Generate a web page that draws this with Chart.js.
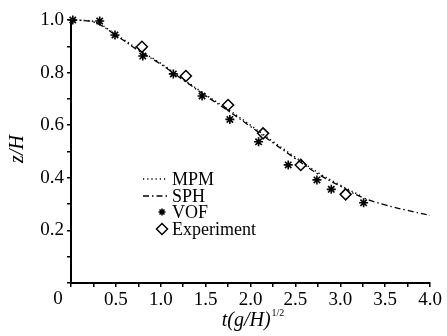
<!DOCTYPE html>
<html>
<head>
<meta charset="utf-8">
<script src="https://cdn.jsdelivr.net/npm/chart.js@4/dist/chart.umd.min.js"></script>
<style>
  html, body { margin: 0; padding: 0; background: #fff; }
  #wrap { width: 447px; height: 336px; }
</style>
</head>
<body>
<div id="wrap"><canvas id="plot" width="447" height="336"></canvas></div>
<script>
// values
const mpmT = [0, 0.25, 0.5, 0.75, 1.0, 1.25, 1.5, 1.75, 2.0, 2.25, 2.5, 2.75, 3.0, 3.25];
const mpmZ = [1.0, 0.995, 0.945, 0.888, 0.835, 0.775, 0.716, 0.66, 0.6, 0.538, 0.478, 0.42, 0.372, 0.328];
const sphT = [0, 0.25, 0.5, 0.75, 1.0, 1.25, 1.5, 1.75, 2.0, 2.25, 2.5, 2.75, 3.0, 3.25, 3.5, 3.75, 4.0];
const sphZ = [1.0, 0.993, 0.942, 0.884, 0.832, 0.772, 0.712, 0.655, 0.595, 0.533, 0.473, 0.415, 0.368, 0.325, 0.297, 0.276, 0.257];
const vofT = [0.02, 0.32, 0.49, 0.8, 1.14, 1.46, 1.77, 2.09, 2.42, 2.74, 2.9, 3.26];
const vofZ = [1.0, 0.996, 0.943, 0.863, 0.795, 0.711, 0.622, 0.537, 0.449, 0.392, 0.356, 0.305];
const expT = [0.79, 1.28, 1.75, 2.14, 2.56, 3.06];
const expZ = [0.898, 0.787, 0.677, 0.569, 0.449, 0.337];
const seriesNames = ["MPM", "SPH", "VOF", "Experiment"];

const serif = "'Liberation Serif', 'Times New Roman', serif";
const pts = (xs, ys) => xs.map((x, i) => ({ x: x, y: ys[i] }));

// legend, axis titles and the corner "0" are drawn by hand
const extras = {
  id: "extras",
  afterDraw(chart) {
    const c = chart.ctx;
    const xs = chart.scales.x;
    c.save();
    c.fillStyle = "#000";
    c.strokeStyle = "#000";
    c.textBaseline = "middle";
    c.font = "19px " + serif;
    c.textAlign = "center";
    c.fillText("0", 58, 299);

    // x title with superscript
    c.textAlign = "left";
    c.textBaseline = "alphabetic";
    c.font = "italic 20px " + serif;
    const main = "t(g/H)";
    const w = c.measureText(main).width;
    c.font = "10px " + serif;
    const sup = "1/2";
    const ws = c.measureText(sup).width;
    const x0 = (xs.left + xs.right) / 2 - (w + ws) / 2 + 2;
    c.font = "italic 20px " + serif;
    c.fillText(main, x0, 326);
    c.font = "10px " + serif;
    c.fillText(sup, x0 + w + 1, 316);

    // y title
    c.save();
    c.translate(18, 149);
    c.rotate(-Math.PI / 2);
    c.textAlign = "center";
    c.textBaseline = "middle";
    c.font = "italic 20px " + serif;
    c.fillText("z/H", 0, 0);
    c.restore();

    // legend
    const ds = chart.data.datasets;
    const lx = 143, tx = 172, rows = [179, 196, 212, 229];
    c.textAlign = "left";
    c.textBaseline = "middle";
    seriesNames.forEach((name, i) => {
      const y = rows[i];
      const d = ds[i];
      c.strokeStyle = "#000";
      if (d.showLine) {
        c.lineWidth = d.borderWidth;
        c.setLineDash(d.borderDash);
        c.beginPath();
        c.moveTo(lx, y);
        c.lineTo(lx + 24, y);
        c.stroke();
        c.setLineDash([]);
      } else {
        c.fillStyle = d.backgroundColor;
        c.lineWidth = d.pointBorderWidth;
        Chart.helpers.drawPoint(c, {
          pointStyle: d.pointStyle,
          radius: d.pointStyle === "star" ? 3.5 : 5.5,
          borderWidth: d.pointBorderWidth,
          rotation: 0
        }, 162, y);
      }
      c.fillStyle = "#000";
      c.font = "18px " + serif;
      c.fillText(name, tx, y + 1);
    });
    c.restore();
  }
};

new Chart(document.getElementById("plot"), {
  type: "scatter",
  data: {
    datasets: [
      {
        label: seriesNames[0],
        data: pts(mpmT, mpmZ),
        showLine: true,
        borderColor: "#000",
        borderWidth: 1.5,
        borderDash: [1.2, 3],
        pointRadius: 0,
        tension: 0.4
      },
      {
        label: seriesNames[1],
        data: pts(sphT, sphZ),
        showLine: true,
        borderColor: "#000",
        borderWidth: 1.3,
        borderDash: [6, 3, 1.5, 3],
        pointRadius: 0,
        tension: 0.4
      },
      {
        label: seriesNames[2],
        data: pts(vofT, vofZ),
        showLine: false,
        pointStyle: "star",
        pointRadius: 4.5,
        pointBorderWidth: 1.6,
        borderColor: "#000",
        backgroundColor: "#000"
      },
      {
        label: seriesNames[3],
        data: pts(expT, expZ),
        showLine: false,
        pointStyle: "rectRot",
        pointRadius: 5.5,
        pointBorderWidth: 1.5,
        borderColor: "#000",
        backgroundColor: "#fff"
      }
    ]
  },
  options: {
    responsive: false,
    animation: false,
    clip: false,
    layout: { padding: { left: 0, top: 20, right: 17, bottom: 0 } },
    plugins: {
      legend: { display: false },
      tooltip: { enabled: false }
    },
    scales: {
      x: {
        type: "linear",
        min: 0,
        max: 4,
        afterFit: (s) => { s.height = 53; },
        ticks: {
          stepSize: 0.25,
          autoSkip: false,
          maxRotation: 0,
          padding: 2,
          color: "#000",
          font: { family: serif, size: 19 },
          callback: (v) => {
            if (v === 0) return "";
            return Math.abs(v * 2 - Math.round(v * 2)) < 1e-6 ? v.toFixed(1) : "";
          }
        },
        grid: { drawOnChartArea: false, drawTicks: true, tickLength: 4, color: "#000", lineWidth: 1.5 },
        border: { color: "#000", width: 2 }
      },
      y: {
        min: 0,
        max: 1,
        afterFit: (s) => { s.width = 71; },
        ticks: {
          stepSize: 0.1,
          autoSkip: false,
          padding: 3,
          color: "#000",
          font: { family: serif, size: 19 },
          callback: (v) => {
            const k = Math.round(v * 10);
            return k > 0 && k % 2 === 0 ? v.toFixed(1) : "";
          }
        },
        grid: { drawOnChartArea: false, drawTicks: true, tickLength: 4, color: "#000", lineWidth: 1.5 },
        border: { color: "#000", width: 2 }
      }
    }
  },
  plugins: [extras]
});
</script>
</body>
</html>
